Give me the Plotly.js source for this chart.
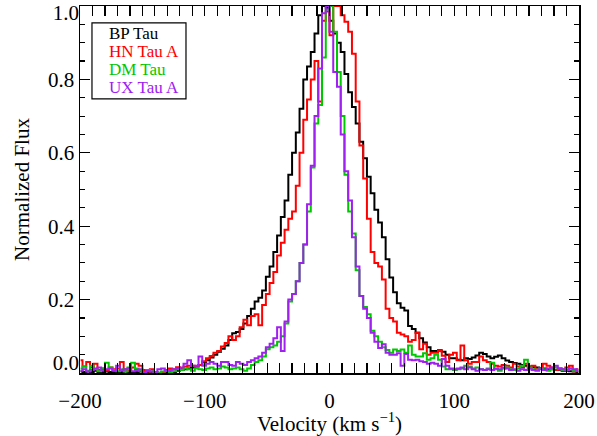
<!DOCTYPE html>
<html>
<head>
<meta charset="utf-8">
<script src="https://cdn.plot.ly/plotly-3.0.1.min.js"></script>
<style>html,body{margin:0;padding:0;background:#fff;}#chart{width:597px;height:436px;}</style>
</head>
<body>
<div id="chart"></div>
<script>
// Velocity bins (km/s): centres from -199.5 in steps of 3
const velStart = -199.5;
const velStep = 3;
const nBins = 134;

const seriesNames = ["BP Tau", "HN Tau A", "DM Tau", "UX Tau A"];
const seriesColors = ["#000000", "#ff0000", "#00c800", "#a020f0"];

const bpTau = [
  0.005, 0.003, 0.004, 0.002, 0.006, 0.003, 0.002, 0.004, 0.003, 0.002,
  0.003, 0.002, 0.004, 0.001, 0.003, 0.002, 0.004, 0.002, 0.003, 0.001,
  0.002, 0.001, 0.003, 0.002, 0.004, 0.003, 0.006, 0.008, 0.010, 0.012,
  0.015, 0.018, 0.022, 0.030, 0.035, 0.042, 0.050, 0.058, 0.066, 0.075,
  0.090, 0.108, 0.112, 0.120, 0.135, 0.155, 0.175, 0.195, 0.205, 0.225,
  0.262, 0.290, 0.330, 0.375, 0.425, 0.470, 0.540, 0.600, 0.655, 0.720,
  0.800, 0.835, 0.875, 0.925, 0.975, 1.000, 0.995, 0.960, 0.925, 0.900,
  0.875, 0.815, 0.765, 0.725, 0.680, 0.630, 0.585, 0.535, 0.490, 0.445,
  0.410, 0.370, 0.310, 0.260, 0.220, 0.190, 0.178, 0.170, 0.128, 0.120,
  0.110, 0.095, 0.083, 0.070, 0.060, 0.060, 0.062, 0.058, 0.050, 0.040,
  0.040, 0.036, 0.035, 0.040, 0.038, 0.042, 0.048, 0.055, 0.052, 0.045,
  0.040, 0.044, 0.048, 0.040, 0.034, 0.030, 0.027, 0.025, 0.022, 0.020,
  0.018, 0.016, 0.015, 0.013, 0.012, 0.010, 0.010, 0.008, 0.009, 0.006,
  0.006, 0.005, 0.004, 0.003
];

const hnTauA = [
  0.035, 0.018, 0.030, 0.015, 0.025, 0.008, 0.012, 0.006, 0.015, 0.010,
  0.012, 0.030, 0.010, 0.006, 0.015, 0.025, 0.020, 0.008, 0.004, 0.010,
  0.002, 0.000, 0.003, 0.008, 0.012, 0.010, 0.016, 0.013, 0.018, 0.020,
  0.020, 0.018, 0.022, 0.032, 0.040, 0.046, 0.055, 0.060, 0.072, 0.082,
  0.100, 0.090, 0.100, 0.125, 0.145, 0.130, 0.155, 0.160, 0.130, 0.185,
  0.215, 0.245, 0.275, 0.320, 0.355, 0.390, 0.420, 0.440, 0.510, 0.600,
  0.690, 0.745, 0.800, 0.850, 0.740, 0.960, 0.985, 0.920, 1.000, 1.000,
  0.975, 0.957, 0.930, 0.870, 0.740, 0.620, 0.530, 0.420, 0.330, 0.300,
  0.290, 0.255, 0.175, 0.150, 0.140, 0.110, 0.105, 0.100, 0.085, 0.090,
  0.110, 0.065, 0.080, 0.050, 0.055, 0.055, 0.060, 0.047, 0.030, 0.050,
  0.055, 0.035, 0.075, 0.035, 0.025, 0.030, 0.030, 0.045, 0.035, 0.030,
  0.025, 0.020, 0.018, 0.022, 0.020, 0.015, 0.025, 0.018, 0.015, 0.025,
  0.015, 0.020, 0.010, 0.012, 0.025, 0.020, 0.015, 0.008, 0.012, 0.010,
  0.015, 0.020, 0.005, 0.010
];

const dmTau = [
  0.012, 0.018, 0.006, 0.020, 0.010, 0.005, 0.012, 0.028, 0.015, 0.008,
  0.005, 0.010, 0.004, 0.015, 0.028, 0.012, 0.006, 0.003, 0.008, 0.005,
  0.002, 0.000, 0.004, 0.006, 0.002, 0.005, 0.010, 0.008, 0.012, 0.010,
  0.006, 0.012, 0.010, 0.008, 0.012, 0.015, 0.010, 0.012, 0.018, 0.015,
  0.010, 0.012, 0.015, 0.010, 0.006, 0.012, 0.022, 0.030, 0.035, 0.045,
  0.065, 0.070, 0.075, 0.085, 0.100, 0.135, 0.195, 0.215, 0.250, 0.300,
  0.350, 0.440, 0.560, 0.680, 0.730, 0.860, 0.990, 1.000, 0.930, 0.820,
  0.700, 0.540, 0.440, 0.380, 0.280, 0.210, 0.180, 0.160, 0.115, 0.100,
  0.085, 0.070, 0.063, 0.055, 0.064, 0.060, 0.064, 0.055, 0.075, 0.050,
  0.045, 0.045, 0.054, 0.036, 0.040, 0.050, 0.036, 0.018, 0.010, 0.010,
  0.008, 0.010, 0.012, 0.020, 0.018, 0.012, 0.015, 0.010, 0.008, 0.012,
  0.028, 0.010, 0.006, 0.012, 0.015, 0.010, 0.008, 0.012, 0.020, 0.036,
  0.015, 0.010, 0.008, 0.012, 0.010, 0.006, 0.010, 0.015, 0.012, 0.008,
  0.010, 0.012, 0.006, 0.008
];

const uxTauA = [
  0.006, 0.010, 0.004, 0.008, 0.012, 0.015, 0.008, 0.010, 0.012, 0.006,
  0.020, 0.008, 0.010, 0.012, 0.005, 0.008, 0.010, 0.003, 0.006, 0.004,
  0.002, 0.010, 0.012, 0.006, 0.008, 0.010, 0.012, 0.015, 0.025, 0.035,
  0.020, 0.020, 0.045, 0.020, 0.025, 0.030, 0.025, 0.020, 0.030, 0.030,
  0.022, 0.020, 0.030, 0.025, 0.022, 0.030, 0.035, 0.040, 0.045, 0.055,
  0.070, 0.080, 0.095, 0.125, 0.060, 0.140, 0.200, 0.215, 0.250, 0.300,
  0.350, 0.460, 0.565, 0.700, 0.830, 0.980, 1.000, 0.930, 0.820, 0.780,
  0.650, 0.550, 0.470, 0.370, 0.290, 0.210, 0.175, 0.150, 0.110, 0.085,
  0.068, 0.078, 0.055, 0.050, 0.050, 0.054, 0.020, 0.052, 0.036, 0.035,
  0.036, 0.032, 0.030, 0.025, 0.028, 0.025, 0.020, 0.038, 0.020, 0.012,
  0.010, 0.012, 0.015, 0.010, 0.015, 0.010, 0.006, 0.010, 0.008, 0.010,
  0.008, 0.012, 0.010, 0.015, 0.012, 0.008, 0.010, 0.006, 0.010, 0.008,
  0.012, 0.008, 0.006, 0.010, 0.008, 0.012, 0.015, 0.020, 0.012, 0.010,
  0.008, 0.012, 0.010, 0.006
];

const xTickVals = [-200, -100, 0, 100, 200];
const xTickText = ["\u2212200", "\u2212100", "0", "100", "200"];
const yTickVals = [0.0, 0.2, 0.4, 0.6, 0.8, 1.0];
const yTickText = ["0.0", "0.2", "0.4", "0.6", "0.8", "1.0"];

const velocity = [];
for (let i = 0; i < nBins; i++) velocity.push(velStart + velStep * i);

const allSeries = [bpTau, hnTauA, dmTau, uxTauA];
const traces = allSeries.map((vals, k) => ({
  x: velocity,
  y: vals,
  type: "scatter",
  mode: "lines",
  name: seriesNames[k],
  line: {color: seriesColors[k], width: 2, shape: "hvh"},
  showlegend: false
}));

const font = "Liberation Serif";

// legend drawn as coloured text lines in a box
const legendY = [0.926, 0.876, 0.828, 0.779];
const annotations = seriesNames.map((n, k) => ({
  xref: "paper", yref: "paper", x: 0.054, y: legendY[k],
  xanchor: "left", yanchor: "middle", showarrow: false,
  text: n, font: {family: font, size: 17, color: seriesColors[k]}
}));

// inner tick labels on the main axis; end labels nudged inwards on overlay axes
const last = yTickVals.length - 1;
const innerVals = yTickVals.slice(1, last);
const innerText = yTickText.slice(1, last);

const yBase = {
  range: [0, 1.0], tickmode: "array",
  showgrid: false, zeroline: false,
  tickfont: {family: font, size: 21, color: "#000"}
};

const layout = {
  width: 597, height: 436,
  margin: {l: 80, r: 18, t: 6, b: 63},
  paper_bgcolor: "#fff", plot_bgcolor: "#fff",
  font: {family: font, size: 21, color: "#000"},
  xaxis: {
    range: [-200, 200],
    tickmode: "array", tickvals: xTickVals, ticktext: xTickText,
    ticks: "inside", ticklen: 10, tickwidth: 1.2, tickcolor: "#000",
    minor: {dtick: 10, ticks: "inside", ticklen: 5, tickwidth: 1.2, tickcolor: "#000"},
    showline: true, linecolor: "#000", linewidth: 1.5, mirror: "allticks",
    showgrid: false, zeroline: false,
    ticklabelstandoff: 8,
    tickfont: {family: font, size: 21},
    title: {text: "Velocity (km s<sup>\u22121</sup>)", font: {family: font, size: 21}, standoff: 0}
  },
  yaxis: Object.assign({}, yBase, {
    tickvals: innerVals, ticktext: innerText,
    ticks: "inside", ticklen: 10, tickwidth: 1.2, tickcolor: "#000",
    minor: {dtick: 0.05, ticks: "inside", ticklen: 5, tickwidth: 1.2, tickcolor: "#000"},
    showline: true, linecolor: "#000", linewidth: 1.5, mirror: "allticks",
    title: {text: "Normalized Flux", font: {family: font, size: 21}, standoff: 12}
  }),
  yaxis2: Object.assign({}, yBase, {
    overlaying: "y", side: "left", anchor: "x",
    tickvals: [yTickVals[last]], ticktext: [yTickText[last]],
    ticks: "", showline: false, ticklabelshift: 7, ticklabeloverflow: "allow"
  }),
  yaxis3: Object.assign({}, yBase, {
    overlaying: "y", side: "left", anchor: "x",
    tickvals: [yTickVals[0]], ticktext: [yTickText[0]],
    ticks: "", showline: false, ticklabelshift: -10, ticklabeloverflow: "allow"
  }),
  shapes: [{
    type: "rect", xref: "paper", yref: "paper",
    x0: 0.024, x1: 0.2124, y0: 0.747, y1: 0.954,
    line: {color: "#000", width: 1.2}, fillcolor: "rgba(0,0,0,0)"
  }],
  annotations: annotations
};

// invisible helper traces bind the overlay axes (no marks drawn)
traces.push({x: [null], y: [null], yaxis: "y2", type: "scatter", mode: "lines", showlegend: false, hoverinfo: "skip"});
traces.push({x: [null], y: [null], yaxis: "y3", type: "scatter", mode: "lines", showlegend: false, hoverinfo: "skip"});

Plotly.newPlot("chart", traces, layout, {displayModeBar: false, staticPlot: true});
</script>
</body>
</html>
